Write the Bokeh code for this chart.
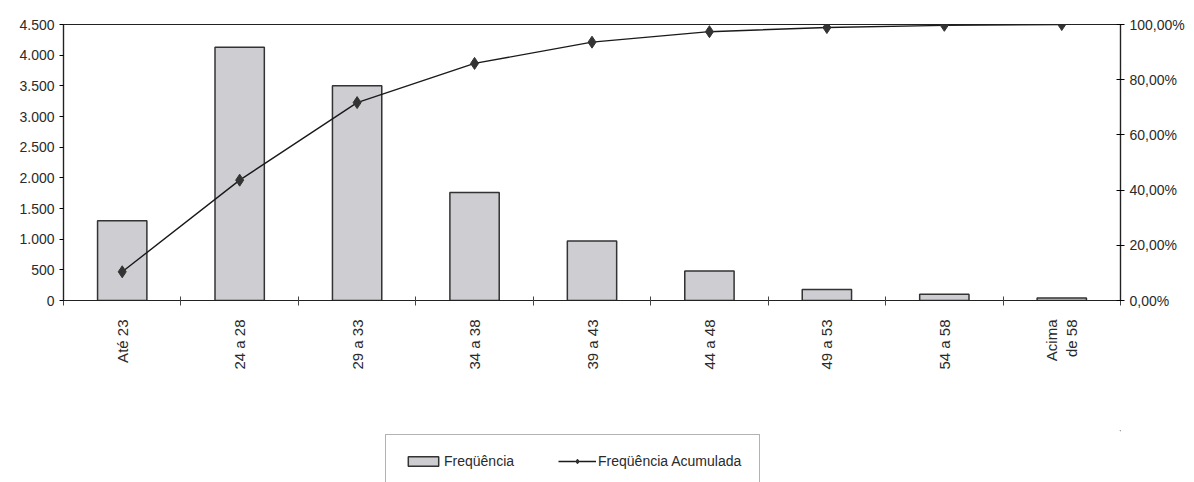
import math
from bokeh.plotting import figure
from bokeh.layouts import column
from bokeh.models import (LinearAxis, Range1d, FixedTicker, Legend, LegendItem,
                          ColumnDataSource)
from bokeh.embed import file_html
from bokeh.resources import INLINE

# Faixas etárias e frequências
categorias = ["Até 23", "24 a 28", "29 a 33", "34 a 38", "39 a 43",
              "44 a 48", "49 a 53", "54 a 58", "Acima\nde 58"]
frequencia = [1300, 4130, 3500, 1760, 970, 480, 180, 100, 40]
freq_acumulada = [0.104, 0.436, 0.717, 0.859, 0.936, 0.974, 0.989, 0.997, 1.0]

ticks_esq = [0, 500, 1000, 1500, 2000, 2500, 3000, 3500, 4000, 4500]
rotulos_esq = ["0", "500", "1.000", "1.500", "2.000", "2.500", "3.000",
               "3.500", "4.000", "4.500"]
ticks_dir = [0, 0.2, 0.4, 0.6, 0.8, 1.0]
rotulos_dir = ["0,00%", "20,00%", "40,00%", "60,00%", "80,00%", "100,00%"]

FONT = "'Liberation Sans Narrow', 'Liberation Sans', Arial, sans-serif"
COR_TEXTO = "#2a2a2a"
BARRA = dict(fill_color="#cdcdd2", line_color="#333333", line_width=1.5)
LINHA = dict(line_color="#1a1a1a", line_width=1.4)
PONTO = dict(marker="diamond", size=12, fill_color="#333333", line_color="#333333")

n = len(categorias)
xs = [i + 0.5 for i in range(n)]
src = ColumnDataSource(dict(x=xs, freq=frequencia, acum=freq_acumulada))

p = figure(width=1194, height=430, output_backend="svg", toolbar_location=None,
           x_range=Range1d(0, n), y_range=Range1d(0, 4500),
           min_border_left=63, min_border_right=74, min_border_top=24,
           min_border_bottom=130)
p.extra_y_ranges = {"pct": Range1d(0, 1.0)}
p.xgrid.visible = False
p.ygrid.visible = False
p.outline_line_color = "#222222"
p.outline_line_width = 1.2
p.background_fill_color = "white"
p.border_fill_color = "white"

p.vbar(x="x", top="freq", width=0.42, source=src, **BARRA)
p.line(x="x", y="acum", source=src, y_range_name="pct", **LINHA)
p.scatter(x="x", y="acum", source=src, y_range_name="pct", **PONTO)

# eixo esquerdo
ax = p.yaxis[0]
ax.ticker = FixedTicker(ticks=ticks_esq)
ax.major_label_overrides = {t: s for t, s in zip(ticks_esq, rotulos_esq)}
ax.major_label_text_font = FONT
ax.major_label_text_font_size = "14px"
ax.major_label_text_color = COR_TEXTO
ax.major_tick_in = 0
ax.major_tick_out = 4
ax.minor_tick_line_color = None
ax.axis_line_color = "#222222"
ax.axis_line_width = 1.2

# eixo direito (percentual)
ay = LinearAxis(y_range_name="pct")
ay.ticker = FixedTicker(ticks=ticks_dir)
ay.major_label_overrides = {t: s for t, s in zip(ticks_dir, rotulos_dir)}
ay.major_label_text_font = FONT
ay.major_label_text_font_size = "14px"
ay.major_label_text_color = COR_TEXTO
ay.major_tick_in = 4
ay.major_tick_out = 4
ay.minor_tick_line_color = None
ay.axis_line_color = "#222222"
ay.axis_line_width = 1.2
p.add_layout(ay, "right")

# eixo das categorias (rótulos lidos de baixo para cima)
bx = p.xaxis[0]
bx.ticker = FixedTicker(ticks=xs, minor_ticks=list(range(n + 1)))
bx.major_label_overrides = {x: c for x, c in zip(xs, categorias)}
bx.major_label_orientation = math.pi / 2
bx.major_label_text_font = "'Liberation Sans', Arial, sans-serif"
bx.major_label_text_font_size = "15px"
bx.major_label_text_color = COR_TEXTO
bx.major_label_standoff = 14
bx.major_tick_in = 0
bx.major_tick_out = 0
bx.minor_tick_in = 4
bx.minor_tick_out = 5
bx.minor_tick_line_color = "#444444"
bx.axis_line_color = "#222222"
bx.axis_line_width = 1.2

# faixa da legenda abaixo do gráfico; os glifos de amostra ficam fora da área visível
lg = figure(width=1194, height=52, output_backend="svg", toolbar_location=None,
            x_range=Range1d(0, 1), y_range=Range1d(0, 1),
            min_border=0, outline_line_color=None)
lg.axis.visible = False
lg.grid.visible = False
fora = ColumnDataSource(dict(x=[100, 101], y=[100, 100], top=[100, 100]))
r_barra = lg.vbar(x="x", top="top", bottom=99, width=0.1, source=fora, **BARRA)
r_linha = lg.line(x="x", y="y", source=fora, **LINHA)
r_ponto = lg.scatter(x="x", y="y", source=fora, **PONTO)

legenda = Legend(items=[
    LegendItem(label="Freqüência", renderers=[r_barra]),
    LegendItem(label="Freqüência Acumulada", renderers=[r_linha, r_ponto]),
], location=(322, -6), orientation="horizontal")
legenda.label_text_font = FONT
legenda.label_text_font_size = "14px"
legenda.label_text_color = COR_TEXTO
legenda.border_line_color = "#666666"
legenda.border_line_width = 1
legenda.glyph_width = 38
legenda.glyph_height = 12
legenda.spacing = 44
legenda.padding = 18
legenda.margin = 0
legenda.label_standoff = 2
legenda.background_fill_alpha = 1.0
lg.add_layout(legenda, "center")

open("out.html", "w").write(file_html(column(p, lg, spacing=0), INLINE))
